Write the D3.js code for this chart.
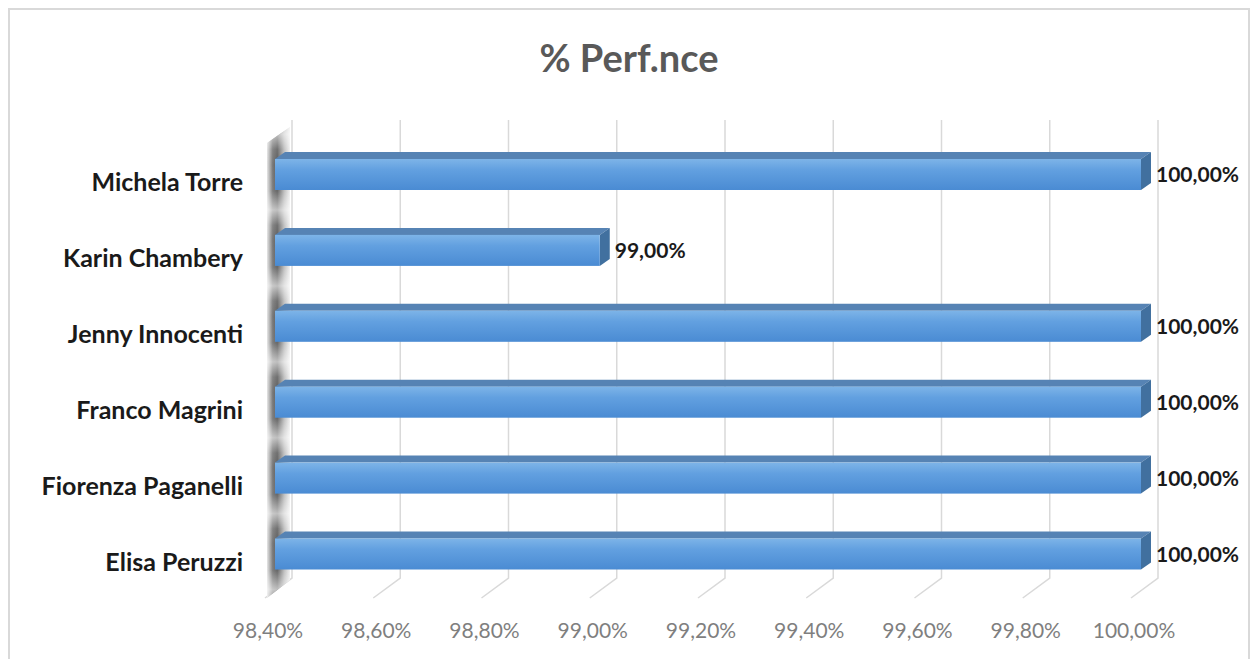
<!DOCTYPE html>
<html>
<head>
<meta charset="utf-8">
<script src="https://cdn.jsdelivr.net/npm/d3@7"></script>
<style>
  body { margin: 0; background: #fff; }
  svg { display: block; font-family: Lato, "Open Sans", sans-serif; }
</style>
</head>
<body>
<script>
// chart data
const names = ["Elisa Peruzzi", "Fiorenza Paganelli", "Franco Magrini", "Jenny Innocenti", "Karin Chambery", "Michela Torre"];
const values = [100, 100, 100, 100, 99, 100];
const tickValues = [98.4, 98.6, 98.8, 99.0, 99.2, 99.4, 99.6, 99.8, 100.0];
const title = "% Perf.nce";

const W = 1252, H = 659;
const depth = { dx: 10, dy: -7 };     // bar depth offset
const floor = { dx: -27, dy: 20 };    // back wall -> front edge of floor
const wallTop = 120, wallBottom = 578;

const loc = d3.formatLocale({ decimal: ",", thousands: ".", grouping: [3], currency: ["", "€"] });
const fmt = v => loc.format(".2f")(v) + "%";

const svg = d3.select("body").append("svg")
    .attr("width", W)
    .attr("height", H);

// scales
const xb = d3.scaleLinear().domain([98.4, 100]).range([292, 1158]); // back wall
const xf = v => xb(v) - 17;                                         // bar front face
const y = d3.scalePoint().domain(names.slice().reverse()).range([174.5, 554]);
const barH = 31;

// gradients
const defs = svg.append("defs");
let g1 = defs.append("linearGradient").attr("id", "front").attr("x1", 0).attr("y1", 0).attr("x2", 0).attr("y2", 1);
g1.append("stop").attr("offset", "0%").attr("stop-color", "#7db4e8");
g1.append("stop").attr("offset", "35%").attr("stop-color", "#62a0e0");
g1.append("stop").attr("offset", "100%").attr("stop-color", "#4a8bd3");

let g2 = defs.append("linearGradient").attr("id", "wall").attr("x1", 0).attr("y1", 0).attr("x2", 1).attr("y2", 0);
g2.append("stop").attr("offset", "0%").attr("stop-color", "#e6e6e6");
g2.append("stop").attr("offset", "25%").attr("stop-color", "#777");
g2.append("stop").attr("offset", "45%").attr("stop-color", "#606060");
g2.append("stop").attr("offset", "75%").attr("stop-color", "#bdbdbd");
g2.append("stop").attr("offset", "100%").attr("stop-color", "#f0f0f0");

// light streaks between bars on the side wall
const step = y.step();
let g3 = defs.append("linearGradient").attr("id", "wallShine")
    .attr("gradientUnits", "userSpaceOnUse")
    .attr("spreadMethod", "repeat")
    .attr("x1", 0).attr("y1", y.range()[0] - 10)
    .attr("x2", 0).attr("y2", y.range()[0] - 10 + step);
g3.append("stop").attr("offset", "0%").attr("stop-color", "#fff").attr("stop-opacity", 0);
g3.append("stop").attr("offset", "35%").attr("stop-color", "#fff").attr("stop-opacity", 0.05);
g3.append("stop").attr("offset", "60%").attr("stop-color", "#fff").attr("stop-opacity", 0.6);
g3.append("stop").attr("offset", "80%").attr("stop-color", "#fff").attr("stop-opacity", 0.1);
g3.append("stop").attr("offset", "100%").attr("stop-color", "#fff").attr("stop-opacity", 0);

// outer border
svg.append("rect")
    .attr("x", 9).attr("y", 9)
    .attr("width", 1240).attr("height", 660)
    .attr("fill", "none")
    .attr("stroke", "#d9d9d9")
    .attr("stroke-width", 2);

// title
svg.append("text")
    .attr("x", 629).attr("y", 72)
    .attr("text-anchor", "middle")
    .attr("font-size", 38)
    .attr("font-weight", "bold")
    .attr("fill", "#595959")
    .text(title);

// back wall gridlines + floor lines
const grid = svg.append("g").attr("stroke", "#d9d9d9").attr("stroke-width", 1.5).attr("fill", "none");
grid.selectAll("path")
    .data(tickValues)
    .join("path")
    .attr("d", d => `M${xb(d)},${wallTop}V${wallBottom}l${floor.dx},${floor.dy}`);

// left side wall
const wx = xb(98.4) - 2;
const wallPath = `M${wx - 23},143L${wx},127L${wx},${wallBottom + 2}L${wx - 23},${wallBottom + 20}Z`;
svg.append("path").attr("d", wallPath).attr("fill", "url(#wall)");
svg.append("path").attr("d", wallPath).attr("fill", "url(#wallShine)");

// tick labels
svg.append("g")
    .selectAll("text")
    .data(tickValues)
    .join("text")
    .attr("x", d => xb(d) - 24)
    .attr("y", 638)
    .attr("text-anchor", "middle")
    .attr("font-size", 21)
    .attr("fill", "#7f7f7f")
    .text(fmt);

// bars
const data = names.map((n, i) => ({ name: n, value: values[i] }));
const bars = svg.append("g").selectAll("g").data(data).join("g");

// top face
bars.append("path")
    .attr("d", d => {
        let x0 = xf(98.4), x1 = xf(d.value), t = y(d.name) - barH / 2;
        return `M${x0},${t}L${x0 + depth.dx},${t + depth.dy}L${x1 + depth.dx},${t + depth.dy}L${x1},${t}Z`;
    })
    .attr("fill", "#5683b4");

// side face
bars.append("path")
    .attr("d", d => {
        let x1 = xf(d.value), t = y(d.name) - barH / 2;
        return `M${x1},${t}L${x1 + depth.dx},${t + depth.dy}L${x1 + depth.dx},${t + barH + depth.dy}L${x1},${t + barH}Z`;
    })
    .attr("fill", "#41709f");

// front face
bars.append("rect")
    .attr("x", xf(98.4))
    .attr("y", d => y(d.name) - barH / 2)
    .attr("width", d => xf(d.value) - xf(98.4))
    .attr("height", barH)
    .attr("fill", "url(#front)");

// value labels
bars.append("text")
    .attr("x", d => xf(d.value) + depth.dx + 5)
    .attr("y", d => y(d.name) + 7.5)
    .attr("font-size", 21)
    .attr("font-weight", "bold")
    .attr("fill", "#1a1a1a")
    .text(d => fmt(d.value));

// category labels
svg.append("g")
    .selectAll("text")
    .data(names)
    .join("text")
    .attr("x", 243)
    .attr("y", d => y(d) + 16.5)
    .attr("text-anchor", "end")
    .attr("font-size", 25)
    .attr("font-weight", "bold")
    .attr("fill", "#1a1a1a")
    .text(d => d);
</script>
</body>
</html>
